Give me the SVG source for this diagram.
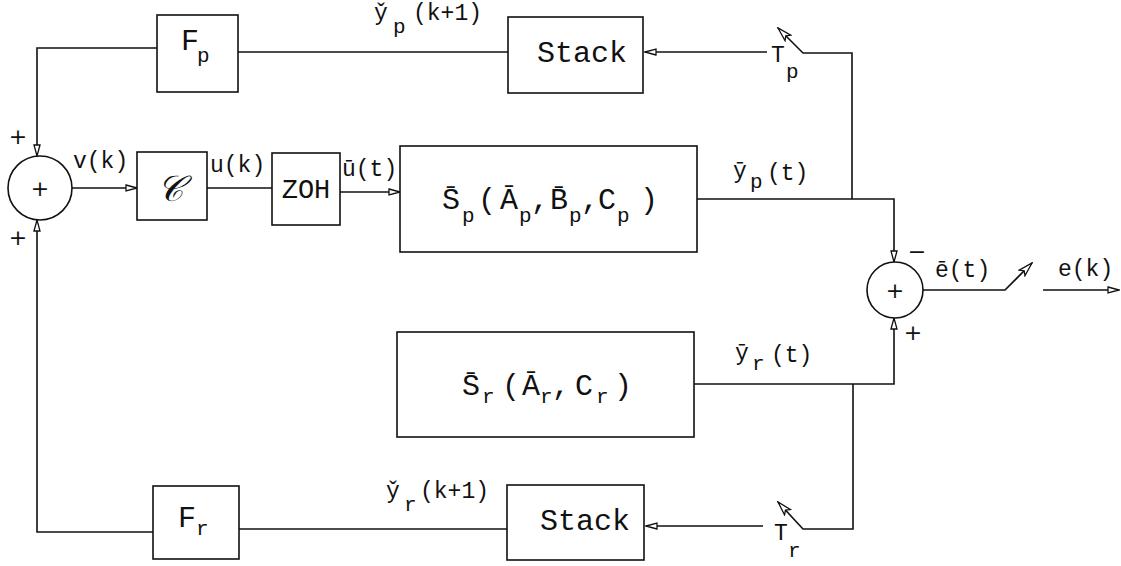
<svg xmlns="http://www.w3.org/2000/svg" width="1121" height="566" viewBox="0 0 1121 566">
<style>
  .ln{fill:none;stroke:#111;stroke-width:1.6}
  .box{fill:#fff;stroke:#111;stroke-width:1.6}
  .t{font-family:"Liberation Mono","DejaVu Sans Mono",monospace;fill:#111}
  .big{font-size:30px}
  .lab{font-size:23px}
  .sub{font-size:21px}
  .sign{font-family:"DejaVu Sans",sans-serif;font-size:22px;fill:#111}
</style>
<defs>
  <marker id="arr" markerWidth="13" markerHeight="9" refX="12" refY="4.5" orient="auto" markerUnits="userSpaceOnUse">
    <path d="M1,1.5 L12,4.5 L1,7.5 Z" fill="#fff" stroke="#111" stroke-width="1.3"/>
  </marker>
  <marker id="sw" markerWidth="16" markerHeight="12" refX="15" refY="6" orient="auto" markerUnits="userSpaceOnUse">
    <path d="M1,2 L15,6 L1,10 L4,6 Z" fill="#fff" stroke="#111" stroke-width="1.3"/>
  </marker>
</defs>
<rect width="1121" height="566" fill="#fff"/>

<!-- signal lines -->
<g id="connectors">
  <path class="ln" d="M157,48 H37 V156" marker-end="url(#arr)"/>
  <path class="ln" d="M508,52 H238"/>
  <path class="ln" d="M767,52 H645" marker-end="url(#arr)"/>
  <path class="ln" d="M852,199 V53 H803 L778,28" marker-end="url(#sw)"/>
  <path class="ln" d="M697,199 H894 V262" marker-end="url(#arr)"/>
  <path class="ln" d="M694,384 H894 V318" marker-end="url(#arr)"/>
  <path class="ln" d="M853,384 V529 H803 L778,502" marker-end="url(#sw)"/>
  <path class="ln" d="M763,526 H646" marker-end="url(#arr)"/>
  <path class="ln" d="M507,529 H239"/>
  <path class="ln" d="M153,532 H37 V220" marker-end="url(#arr)"/>
  <path class="ln" d="M72,188 H137" marker-end="url(#arr)"/>
  <path class="ln" d="M207,188 H272"/>
  <path class="ln" d="M340,192 H400" marker-end="url(#arr)"/>
  <path class="ln" d="M923,290 H1005 L1032,263" marker-end="url(#sw)"/>
  <path class="ln" d="M1043,290 H1119" marker-end="url(#arr)"/>
</g>

<!-- summing junction for the feedback paths -->
<g id="sum1">
  <circle class="box" cx="40" cy="188" r="32"/>
  <text class="sign" x="40" y="196" text-anchor="middle" font-size="28">+</text>
  <text class="sign" x="18" y="144" text-anchor="middle">+</text>
  <text class="sign" x="18" y="245" text-anchor="middle">+</text>
</g>

<g id="Fp">
  <rect class="box" x="157" y="15" width="81" height="77"/>
  <text class="t big" x="181" y="50">F<tspan class="sub" x="197" y="62">p</tspan></text>
</g>

<g id="stackP">
  <rect class="box" x="508" y="17" width="135" height="76"/>
  <text class="t big" x="537" y="62">Stack</text>
</g>

<g id="Cctrl">
  <rect class="box" x="137" y="152" width="70" height="68"/>
  <text x="170" y="201" text-anchor="middle" font-family="DejaVu Serif, Liberation Serif, serif" font-style="italic" font-size="36" fill="#111">𝒞</text>
</g>

<g id="ZOH">
  <rect class="box" x="272" y="153" width="68" height="72"/>
  <text class="t" x="306" y="198" text-anchor="middle" font-size="27">ZOH</text>
</g>

<g id="Sp">
  <rect class="box" x="400" y="146" width="297" height="106"/>
  <text class="t big" y="209"><tspan x="442">S̄</tspan><tspan class="sub" x="462" y="222">p</tspan><tspan x="478" y="209">(</tspan><tspan x="500">Ā</tspan><tspan class="sub" x="519" y="222">p</tspan><tspan x="531" y="209">,</tspan><tspan x="550">B̄</tspan><tspan class="sub" x="569" y="222">p</tspan><tspan x="581" y="209">,</tspan><tspan x="598">C</tspan><tspan class="sub" x="617" y="222">p</tspan><tspan x="640" y="209">)</tspan></text>
</g>

<g id="Sr">
  <rect class="box" x="397" y="332" width="297" height="105"/>
  <text class="t big" y="395"><tspan x="462">S̄</tspan><tspan class="sub" x="482" y="403">r</tspan><tspan x="502" y="395">(</tspan><tspan x="522">Ā</tspan><tspan class="sub" x="540" y="403">r</tspan><tspan x="552" y="395">,</tspan><tspan x="575">C</tspan><tspan class="sub" x="596" y="403">r</tspan><tspan x="614" y="395">)</tspan></text>
</g>

<g id="sum2">
  <circle class="box" cx="895" cy="290" r="28"/>
  <text class="sign" x="895" y="298" text-anchor="middle" font-size="26">+</text>
  <text class="sign" x="917" y="259" text-anchor="middle">−</text>
  <text class="sign" x="913" y="340" text-anchor="middle">+</text>
</g>

<g id="Fr">
  <rect class="box" x="153" y="486" width="86" height="73"/>
  <text class="t big" x="178" y="527">F<tspan class="sub" x="196" y="535">r</tspan></text>
</g>

<g id="stackR">
  <rect class="box" x="507" y="485" width="137" height="75"/>
  <text class="t big" x="540" y="530">Stack</text>
</g>

<!-- sampler labels -->
<g id="Tp"><text class="t lab" x="771" y="62">T<tspan class="sub" x="786" y="78">p</tspan></text></g>
<g id="Tr"><text class="t lab" x="774" y="540">T<tspan class="sub" x="788" y="557">r</tspan></text></g>

<!-- signal labels -->
<g id="labels">
  <text class="t lab" x="73" y="168">v(k)</text>
  <text class="t lab" x="210" y="172">u(k)</text>
  <text class="t lab" x="342" y="176">ū(t)</text>
  <text class="t lab" x="374" y="20">y̌<tspan class="sub" x="393" y="33">p</tspan><tspan x="413" y="20">(k+1)</tspan></text>
  <text class="t lab" x="386" y="498">y̌<tspan class="sub" x="404" y="511">r</tspan><tspan x="420" y="498">(k+1)</tspan></text>
  <text class="t lab" x="733" y="178">ȳ<tspan class="sub" x="750" y="188">p</tspan><tspan x="767" y="180">(t)</tspan></text>
  <text class="t lab" x="735" y="360">ȳ<tspan class="sub" x="752" y="370">r</tspan><tspan x="771" y="362">(t)</tspan></text>
  <text class="t lab" x="935" y="277">ē(t)</text>
  <text class="t lab" x="1058" y="276">e(k)</text>
</g>
</svg>
